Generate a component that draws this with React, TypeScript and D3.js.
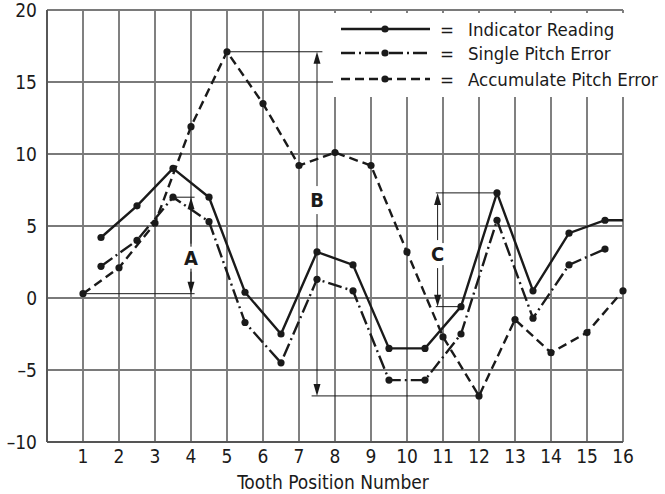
import React from 'react';
import * as d3 from 'd3';

const width = 665;
const height = 494;

// tooth positions / ticks
const toothTicks = [1, 2, 3, 4, 5, 6, 7, 8, 9, 10, 11, 12, 13, 14, 15, 16];
const yTicks = [-10, -5, 0, 5, 10, 15, 20];

// readings taken between teeth
const halfPositions = [1.5, 2.5, 3.5, 4.5, 5.5, 6.5, 7.5, 8.5, 9.5, 10.5, 11.5, 12.5, 13.5, 14.5, 15.5];
const indicatorReading = [4.2, 6.4, 9.0, 7.0, 0.4, -2.5, 3.2, 2.3, -3.5, -3.5, -0.6, 7.3, 0.5, 4.5, 5.4];
const singlePitchError = [2.2, 4.0, 7.0, 5.3, -1.7, -4.5, 1.3, 0.5, -5.7, -5.7, -2.5, 5.4, -1.4, 2.3, 3.4];
const accumulatePitchError = [0.3, 2.1, 5.2, 11.9, 17.1, 13.5, 9.2, 10.1, 9.2, 3.2, -2.7, -6.8, -1.5, -3.8, -2.4, 0.5];

const legendLabels = ['Indicator Reading', 'Single Pitch Error', 'Accumulate Pitch Error'];
const dashes = ['none', '14 4 2 4', '9 5'];

// A, B, C dimension marks
const dimLabels = ['A', 'B', 'C'];
const dimX = [4, 7.5, 10.85];
const dimTop = [7.0, 17.1, 7.3];
const dimBottom = [0.3, -6.8, -0.6];
const dimTopFrom = [3.5, 5, 10.8];
const dimTopTo = [4.1, 7.65, 12.5];
const dimBottomFrom = [1, 7.35, 10.8];
const dimBottomTo = [4.1, 12, 11.5];
const dimLabelY = [2.8, 6.8, 3.05];

const FONT = '"DejaVu Sans Condensed", "Liberation Sans Narrow", "Arial Narrow", sans-serif';

export default function App() {
  const x = d3.scaleLinear().domain([0, 16]).range([47, 623]);
  const y = d3.scaleLinear().domain([-10, 20]).range([442, 10]);

  const line = d3.line<[number, number]>().x(d => x(d[0])).y(d => y(d[1]));

  const indPts = halfPositions.map((p, i) => [p, indicatorReading[i]] as [number, number]);
  const indLine = [...indPts, [16, indicatorReading[indicatorReading.length - 1]] as [number, number]];
  const singlePts = halfPositions.map((p, i) => [p, singlePitchError[i]] as [number, number]);
  const accPts = toothTicks.map((p, i) => [p, accumulatePitchError[i]] as [number, number]);

  const series = [
    { pts: indPts, path: indLine, dash: dashes[0] },
    { pts: singlePts, path: singlePts, dash: dashes[1] },
    { pts: accPts, path: accPts, dash: dashes[2] },
  ];

  const gridColor = '#7a7a7a';
  const ink = '#1a1a1a';

  const arrow = (xp: number, yTip: number, dir: number) => {
    // dir -1: pointing up, 1: pointing down
    const h = 12;
    return `M${xp},${yTip} L${xp - 3.5},${yTip - dir * h} L${xp + 3.5},${yTip - dir * h} Z`;
  };

  return (
    <svg width={width} height={height} style={{ position: 'absolute', left: 0, top: 0 }} fontFamily={FONT}>
      <rect width={width} height={height} fill="white" />
      {/* grid */}
      {yTicks.map(t => (
        <line key={'h' + t} x1={x(0)} x2={x(16)} y1={y(t)} y2={y(t)} stroke={gridColor} strokeWidth={1.9} />
      ))}
      {[0, ...toothTicks].map(t => (
        <line key={'v' + t} x1={x(t)} x2={x(t)} y1={y(20)} y2={y(-10)} stroke={gridColor} strokeWidth={1.9} />
      ))}
      <line x1={x(0)} x2={x(16)} y1={y(-10)} y2={y(-10)} stroke="#555" strokeWidth={1.9} />
      <line x1={x(0)} x2={x(0)} y1={y(20)} y2={y(-10)} stroke="#555" strokeWidth={1.9} />

      {/* legend background */}
      <rect x={333} y={13} width={332} height={84} fill="white" />

      {/* tick labels */}
      {toothTicks.map(t => (
        <text key={'xt' + t} x={x(t)} y={463} textAnchor="middle" fontSize={19} fill={ink}>{t}</text>
      ))}
      {yTicks.map(t => (
        <text key={'yt' + t} x={37} y={y(t)} dy="0.36em" textAnchor="end" fontSize={19} fill={ink}>
          {t < 0 ? '\u2013' + Math.abs(t) : t}
        </text>
      ))}
      <text x={333} y={489} textAnchor="middle" fontSize={19} fill={ink}>Tooth Position Number</text>

      {/* dimension marks */}
      {dimLabels.map((lab, i) => {
        const xp = x(dimX[i]);
        const ly = y(dimLabelY[i]);
        return (
          <g key={lab}>
            <line x1={x(dimTopFrom[i])} x2={x(dimTopTo[i])} y1={y(dimTop[i])} y2={y(dimTop[i])} stroke={ink} strokeWidth={1} />
            <line x1={x(dimBottomFrom[i])} x2={x(dimBottomTo[i])} y1={y(dimBottom[i])} y2={y(dimBottom[i])} stroke={ink} strokeWidth={1} />
            <rect x={xp - 7} y={ly - 11} width={14} height={22} fill="white" />
            <line x1={xp} x2={xp} y1={y(dimTop[i]) + 10} y2={ly - 14} stroke={ink} strokeWidth={1} />
            <line x1={xp} x2={xp} y1={ly + 14} y2={y(dimBottom[i]) - 10} stroke={ink} strokeWidth={1} />
            <path d={arrow(xp, y(dimTop[i]), -1)} fill={ink} />
            <path d={arrow(xp, y(dimBottom[i]), 1)} fill={ink} />
            <text x={xp} y={ly} dy="0.36em" textAnchor="middle" fontSize={20} fontWeight="bold" fill={ink}>{lab}</text>
          </g>
        );
      })}

      {/* series */}
      {series.map((s, i) => (
        <g key={'s' + i}>
          <path d={line(s.path) || ''} fill="none" stroke={ink} strokeWidth={2.4} strokeDasharray={s.dash} />
          {s.pts.map((p, j) => (
            <circle key={j} cx={x(p[0])} cy={y(p[1])} r={3.6} fill={ink} />
          ))}
        </g>
      ))}

      {/* legend */}
      {legendLabels.map((lab, i) => {
        const ly = [29, 53, 79][i];
        return (
          <g key={lab}>
            <line x1={341} x2={430} y1={ly} y2={ly} stroke={ink} strokeWidth={2.4} strokeDasharray={dashes[i]} />
            <circle cx={385} cy={ly} r={3.6} fill={ink} />
            <text x={447} y={ly} dy="0.36em" textAnchor="middle" fontSize={18.5} fill={ink}>=</text>
            <text x={468} y={ly} dy="0.36em" fontSize={18.5} fill={ink}>{lab}</text>
          </g>
        );
      })}
    </svg>
  );
}
